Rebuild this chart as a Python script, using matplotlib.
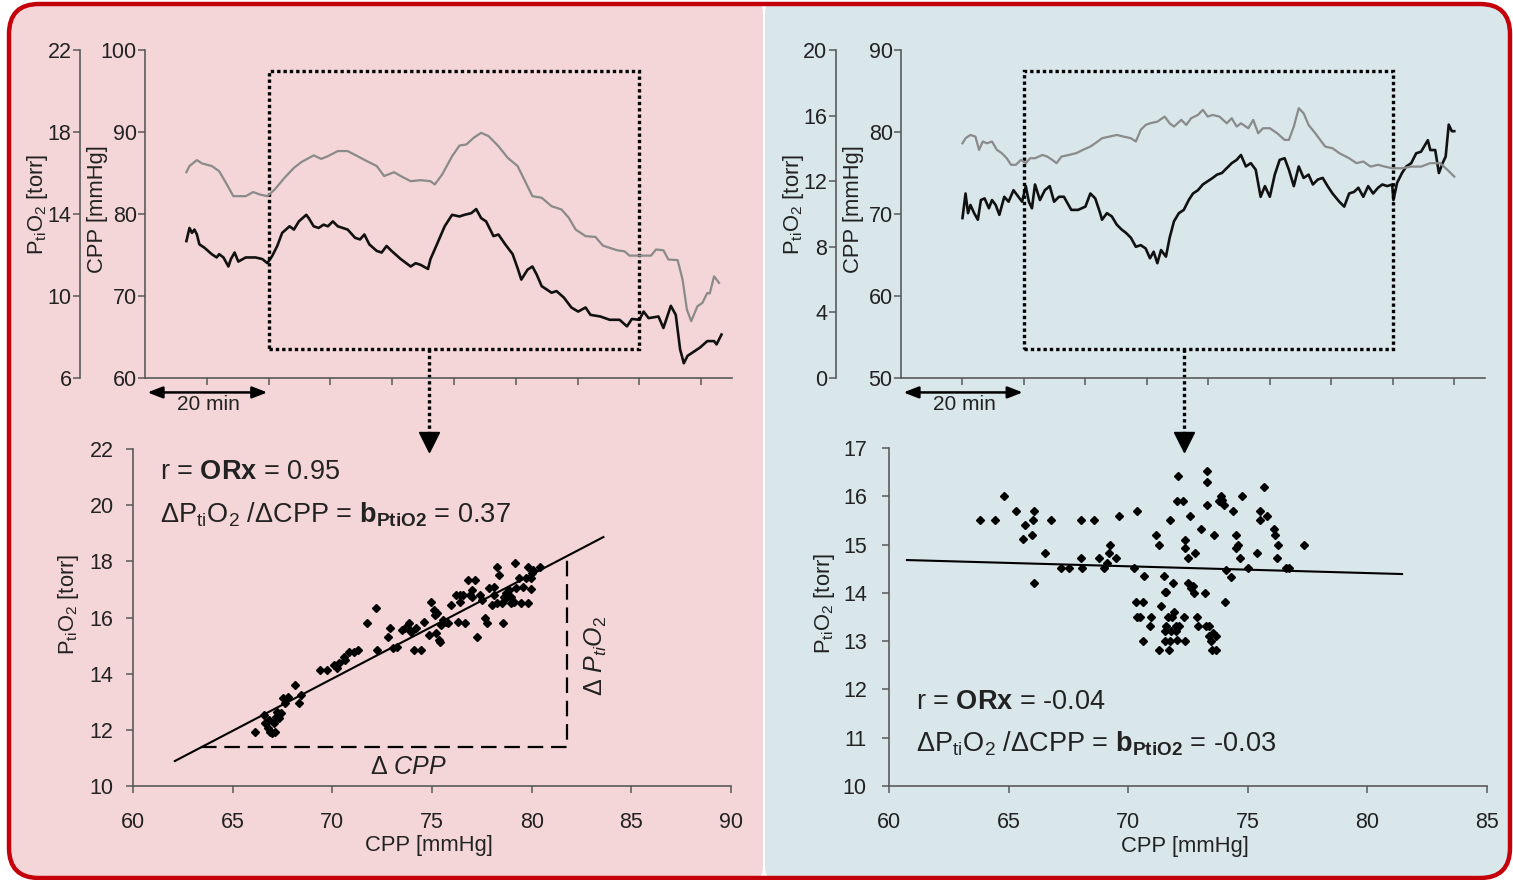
import matplotlib
matplotlib.use('Agg')
import matplotlib.pyplot as plt
from matplotlib.patches import FancyBboxPatch, Rectangle
import numpy as np

plt.rcParams['font.family'] = ['Liberation Sans', 'DejaVu Sans']
plt.rcParams['mathtext.fontset'] = 'custom'
plt.rcParams['mathtext.rm'] = 'Liberation Sans'
plt.rcParams['mathtext.it'] = 'Liberation Sans:italic'
plt.rcParams['mathtext.bf'] = 'Liberation Sans:bold'

# ---- left panel, time series (t in min) ----
left_p_t = [6.7, 7.2, 8.4, 9.2, 10.8, 12.0, 13.1, 14.3, 16.3, 17.5, 18.6, 19.8, 21.0, 22.6, 24.1, 25.3,
            27.3, 28.5, 29.6, 31.2, 32.8, 34.4, 35.9, 37.5, 38.7, 40.3, 41.4, 43.0, 44.6, 46.2, 46.9,
            48.1, 49.7, 50.9, 52.0, 53.2, 54.4, 55.6, 57.2, 58.7, 60.3, 61.9, 62.7, 64.2, 65.8, 67.4,
            68.6, 69.7, 71.3, 72.9, 74.1, 75.2, 76.4, 77.6, 78.4, 80.0, 81.9, 82.7, 83.9, 84.7, 86.2,
            87.0, 87.7, 88.4, 89.4, 90.2, 91.0, 91.4, 92.1, 92.9]
left_p = [16.04, 16.34, 16.63, 16.47, 16.34, 16.09, 15.52, 14.87, 14.87, 15.07, 14.95, 14.87, 15.20,
          15.77, 16.25, 16.53, 16.86, 16.69, 16.82, 17.07, 17.07, 16.82, 16.58, 16.34, 15.85, 16.04,
          15.85, 15.60, 15.65, 15.60, 15.44, 15.93, 16.82, 17.34, 17.39, 17.72, 17.96, 17.80, 17.31,
          16.74, 16.34, 15.36, 14.87, 14.79, 14.38, 14.22, 13.81, 13.24, 12.92, 12.88, 12.46, 12.35,
          12.23, 12.18, 11.97, 11.97, 11.97, 12.27, 12.23, 11.78, 11.75, 10.80, 9.34, 8.77, 9.50,
          9.66, 10.15, 10.12, 10.96, 10.64]
left_cpp_t = [6.7, 7.2, 7.6, 8.0, 8.4, 8.8, 9.6, 10.8, 11.6, 12.0, 12.7, 13.5, 13.9, 14.5, 15.1, 16.3,
              17.9, 19.0, 19.8, 20.6, 21.4, 22.2, 23.4, 24.1, 24.9, 26.1, 26.5, 27.3, 28.1, 28.9, 29.6,
              30.4, 31.2, 32.8, 34.0, 34.8, 35.5, 36.3, 37.5, 38.3, 39.1, 39.9, 41.4, 43.0, 43.8, 44.6,
              45.8, 46.2, 46.9, 48.5, 49.7, 50.9, 51.7, 52.8, 53.6, 54.4, 55.2, 56.4, 57.2, 58.3, 59.5,
              60.3, 60.9, 61.9, 62.7, 63.4, 64.2, 65.0, 65.8, 66.6, 67.8, 69.0, 70.1, 71.3, 72.1, 73.7,
              75.2, 76.8, 78.0, 78.8, 80.0, 80.7, 81.5, 83.1, 83.9, 85.1, 85.9, 86.6, 87.2, 87.8, 88.6,
              89.8, 91.0, 92.1, 92.5, 93.3]
left_cpp = [76.7, 78.3, 77.7, 78.1, 77.5, 76.3, 75.9, 75.1, 74.7, 75.1, 74.7, 73.6, 74.5, 75.3, 74.2,
            74.7, 74.7, 74.5, 74.0, 74.9, 76.1, 77.7, 78.5, 78.1, 79.1, 79.9, 79.5, 78.5, 78.3, 78.7,
            78.5, 79.1, 78.5, 78.1, 77.1, 76.9, 77.5, 76.3, 75.5, 75.3, 76.1, 75.5, 74.5, 73.6, 74.0,
            73.8, 73.3, 74.5, 75.7, 78.5, 79.9, 79.7, 79.9, 80.1, 80.6, 79.5, 79.1, 77.3, 77.5, 76.3,
            75.1, 73.4, 72.0, 73.2, 73.6, 72.6, 71.2, 70.8, 70.4, 70.6, 69.8, 68.6, 68.1, 68.6, 67.7,
            67.5, 67.1, 67.1, 66.3, 67.2, 67.1, 68.1, 67.3, 67.5, 66.1, 68.8, 67.7, 63.5, 61.8, 62.7,
            63.1, 63.7, 64.5, 64.5, 64.1, 65.3]

# ---- right panel, time series ----
right_p_t = [10.0, 10.5, 11.3, 12.1, 12.7, 13.3, 14.0, 14.8, 15.6, 16.4, 17.2, 17.9, 18.7, 19.5, 20.3,
             21.0, 21.8, 23.0, 23.8, 24.6, 25.3, 26.1, 27.3, 28.5, 29.6, 30.8, 32.0, 32.7, 33.9, 35.1,
             36.2, 37.4, 38.2, 39.0, 39.8, 40.5, 41.7, 42.9, 43.7, 44.4, 45.6, 46.4, 47.2, 48.3, 49.1,
             49.9, 50.7, 51.8, 53.0, 53.8, 54.6, 55.3, 56.5, 57.3, 58.1, 58.9, 60.0, 61.2, 62.4, 63.1,
             63.9, 64.7, 65.5, 66.3, 67.4, 69.0, 70.2, 71.3, 72.9, 74.1, 75.2, 76.4, 77.6, 78.7, 79.9,
             81.5, 83.0, 84.6, 86.1, 87.7, 88.9, 90.0]
right_p = [14.31, 14.62, 14.82, 14.72, 13.91, 14.42, 14.31, 14.42, 13.91, 13.71, 13.40, 13.00, 13.00,
           13.30, 13.10, 13.40, 13.40, 13.60, 13.50, 13.30, 13.10, 13.50, 13.60, 13.71, 13.91, 14.11,
           14.42, 14.62, 14.72, 14.82, 14.72, 14.62, 14.42, 15.13, 15.43, 15.53, 15.63, 15.94, 15.53,
           15.33, 15.74, 15.43, 15.84, 16.04, 16.35, 15.94, 16.04, 15.94, 15.53, 15.84, 15.33, 15.53,
           15.23, 15.74, 14.92, 15.23, 15.23, 14.92, 14.52, 14.52, 15.33, 16.45, 16.14, 15.43, 14.92,
           14.11, 14.01, 13.71, 13.40, 13.10, 13.20, 12.89, 13.00, 12.89, 12.79, 12.79, 12.89, 12.89,
           13.10, 13.10, 12.69, 12.28]
right_cpp_t = [10.0, 10.5, 10.9, 11.3, 11.9, 12.5, 13.0, 13.6, 14.3, 14.8, 15.4, 16.0, 16.8, 17.5, 18.3,
               19.1, 19.7, 20.3, 20.8, 21.3, 21.8, 22.6, 23.4, 24.2, 24.9, 25.7, 26.5, 27.7, 28.8, 30.0,
               30.8, 31.6, 32.4, 32.7, 33.5, 34.3, 35.1, 35.9, 36.6, 37.4, 38.2, 39.0, 39.8, 40.5, 41.1,
               41.7, 42.3, 43.1, 43.7, 44.4, 45.2, 46.0, 46.8, 47.5, 48.3, 49.1, 49.9, 50.7, 51.4, 52.2,
               53.0, 53.8, 54.6, 55.3, 56.1, 56.9, 57.7, 58.5, 59.2, 60.0, 60.8, 61.6, 62.4, 63.1, 63.9,
               64.7, 65.5, 66.3, 67.0, 67.8, 68.6, 69.4, 70.2, 71.3, 72.1, 72.9, 73.7, 74.4, 75.2, 76.0,
               76.8, 77.6, 78.3, 79.1, 79.9, 80.1, 80.7, 81.5, 82.2, 83.0, 83.8, 84.6, 85.7, 86.1, 86.9,
               87.5, 88.1, 88.6, 89.1, 89.6, 90.0]
right_cpp = [69.5, 72.5, 70.1, 71.1, 70.1, 69.3, 71.7, 71.9, 70.7, 71.7, 71.1, 69.9, 72.1, 71.5, 72.9,
             72.1, 71.5, 73.4, 71.5, 70.7, 73.6, 71.7, 72.9, 73.4, 71.5, 72.1, 72.1, 70.5, 70.5, 70.9,
             72.5, 71.9, 70.1, 69.3, 70.1, 69.7, 68.7, 68.1, 67.7, 67.1, 66.0, 66.2, 65.8, 64.6, 65.4,
             64.0, 65.6, 64.8, 67.1, 69.1, 70.1, 70.5, 71.7, 72.5, 72.9, 73.6, 74.0, 74.4, 74.8, 75.0,
             75.6, 76.2, 76.6, 77.2, 75.8, 76.2, 75.4, 72.1, 73.4, 72.1, 74.8, 76.6, 76.8, 75.4, 73.4,
             75.8, 74.4, 74.8, 73.6, 74.2, 74.4, 73.4, 72.5, 71.5, 70.9, 72.5, 72.7, 73.2, 72.1, 73.4,
             72.5, 73.2, 73.6, 73.4, 73.6, 71.7, 73.8, 75.0, 75.8, 76.2, 77.4, 77.6, 79.0, 77.8, 77.8,
             75.0, 76.2, 77.0, 80.9, 80.1, 80.1]

# ---- scatter data: CPP [mmHg] vs PtiO2 [torr] ----
left_sc_cpp = [66.13, 66.64, 66.76, 66.89, 66.98, 67.06, 67.18, 67.30, 67.42, 66.57, 66.81, 67.13, 67.23,
               67.54, 67.62, 67.79, 68.15, 68.35, 68.44, 69.37, 69.73, 70.10, 70.22, 70.34, 70.58, 70.63,
               70.83, 71.07, 71.31, 71.73, 72.17, 72.24, 72.77, 72.90, 73.02, 73.26, 73.50, 73.63, 73.75,
               73.87, 73.94, 74.11, 74.18, 74.43, 74.60, 74.84, 74.96, 75.09, 75.13, 75.21, 75.26, 75.33,
               75.40, 75.45, 75.57, 75.69, 75.82, 75.94, 76.18, 76.42, 76.55, 76.67, 76.79, 76.91, 77.03,
               77.15, 77.27, 77.40, 77.52, 77.64, 77.76, 77.88, 78.00, 78.13, 78.25, 78.37, 78.49, 78.56,
               78.61, 78.73, 78.86, 78.98, 79.10, 79.15, 79.22, 79.34, 79.46, 79.59, 79.71, 79.83, 79.83,
               79.95, 80.02, 80.07, 79.95, 80.44, 78.13, 78.25, 78.73, 78.98, 76.42, 76.30, 77.03]
left_sc_p = [11.93, 12.23, 12.05, 11.93, 11.90, 12.23, 12.47, 12.41, 12.59, 12.53, 12.35, 11.93, 12.65,
             13.12, 12.94, 13.18, 13.60, 12.94, 13.24, 14.13, 14.13, 14.31, 14.19, 14.37, 14.61, 14.49,
             14.78, 14.78, 14.84, 15.82, 16.33, 14.84, 15.32, 15.61, 14.90, 14.96, 15.55, 15.61, 15.67,
             15.79, 15.50, 14.84, 15.61, 14.84, 15.85, 15.38, 16.56, 16.27, 16.09, 15.44, 16.15, 15.20,
             15.14, 15.73, 15.91, 15.85, 15.79, 16.45, 16.80, 16.56, 16.80, 15.79, 17.34, 16.80, 16.98,
             17.34, 15.32, 16.80, 16.62, 15.97, 15.79, 17.04, 16.45, 17.10, 17.81, 17.51, 16.50, 15.79,
             16.74, 16.86, 16.98, 16.50, 16.56, 17.93, 17.04, 17.39, 16.50, 17.10, 17.39, 16.50, 17.81,
             17.00, 17.57, 17.69, 17.39, 17.81, 16.80, 16.50, 16.68, 16.74, 16.80, 15.85, 16.74]
right_sc_cpp = [63.82, 64.42, 64.80, 65.30, 65.62, 65.70, 65.98, 66.02, 66.06, 66.06, 66.51, 66.79, 67.17,
                67.51, 68.01, 68.01, 68.07, 68.59, 68.80, 69.00, 69.12, 69.18, 69.22, 69.48, 69.60, 70.24,
                70.38, 70.38, 70.32, 70.62, 70.48, 70.62, 70.68, 70.94, 70.92, 71.18, 71.29, 71.29, 71.39,
                71.49, 71.53, 71.59, 71.59, 71.53, 71.53, 71.65, 71.69, 71.73, 71.73, 71.79, 71.85, 71.89,
                71.93, 71.99, 71.99, 72.05, 72.09, 72.13, 72.05, 72.29, 72.33, 72.39, 72.39, 72.39, 72.49,
                72.49, 72.59, 72.63, 72.69, 72.75, 72.79, 72.89, 72.93, 73.05, 73.19, 73.25, 73.29, 73.29,
                73.29, 73.39, 73.39, 73.45, 73.49, 73.53, 73.59, 73.65, 73.69, 73.80, 73.90, 73.94, 74.00,
                74.06, 74.10, 74.30, 74.40, 74.50, 74.50, 74.60, 74.66, 74.76, 75.00, 75.40, 75.50, 75.50,
                75.66, 75.80, 76.10, 76.14, 76.20, 76.27, 76.61, 76.71, 77.37]
right_sc_p = [15.51, 15.51, 16.01, 15.70, 15.11, 15.41, 15.20, 15.51, 15.70, 14.20, 14.82, 15.51, 14.51,
              14.51, 15.51, 14.72, 14.51, 15.51, 14.72, 14.51, 14.62, 14.82, 15.00, 14.72, 15.60, 14.51,
              15.70, 13.50, 13.82, 13.82, 13.50, 13.01, 14.34, 13.50, 13.32, 15.20, 15.00, 12.82, 13.72,
              14.34, 14.01, 14.01, 13.32, 13.20, 13.01, 13.50, 12.82, 15.51, 13.01, 13.20, 13.50, 14.20,
              13.61, 13.32, 13.20, 13.03, 16.41, 13.32, 15.91, 15.91, 13.51, 15.10, 14.93, 13.01, 14.72,
              14.20, 15.60, 14.10, 14.15, 13.99, 14.82, 13.50, 13.32, 15.32, 13.99, 13.32, 16.52, 16.29,
              15.81, 13.32, 13.10, 13.01, 12.82, 13.17, 15.20, 13.10, 12.82, 15.91, 16.00, 15.93, 15.81,
              13.82, 14.48, 14.32, 15.70, 15.20, 14.93, 15.00, 14.72, 16.00, 14.51, 14.82, 15.70, 15.51,
              16.19, 15.60, 15.32, 15.20, 14.72, 15.00, 14.51, 14.51, 15.00]

# regression lines (slope, intercept) and their x extent
left_fit = (0.371, -12.15)
left_fit_x = [62.1, 83.6]
right_fit = (-0.0140, 15.53)
right_fit_x = [60.75, 81.45]

left_text = [r'r = $\mathbf{ORx}$ = 0.95',
             r'$\Delta$P$_{\mathrm{ti}}$O$_2$ /$\Delta$CPP = $\mathbf{b_{PtiO2}}$ = 0.37']
right_text = [r'r = $\mathbf{ORx}$ = -0.04',
              r'$\Delta$P$_{\mathrm{ti}}$O$_2$ /$\Delta$CPP = $\mathbf{b_{PtiO2}}$ = -0.03']

P_LABEL = r'P$_{\mathrm{ti}}$O$_2$ [torr]'
C_LABEL = 'CPP [mmHg]'

W, H = 1513, 880
PINK = '#f4d6d8'
BLUE = '#d9e6ea'
RED = '#c4000b'
GRAY_LINE = '#8a8a8a'
SPINE = '#5a5a5a'
TXT = '#222222'
TICK_FS = 15.5
LABEL_FS = 15.8

fig = plt.figure(figsize=(W / 100, H / 100), dpi=100)

# background panels
bg = fig.add_axes([0, 0, 1, 1], zorder=-5)
bg.set_xlim(0, W)
bg.set_ylim(H, 0)
bg.axis('off')
outer = FancyBboxPatch((9, 4), W - 12, H - 6, boxstyle='round,pad=0,rounding_size=30',
                       fc='none', ec=RED, lw=3.2, zorder=5)
bg.add_patch(outer)
for x0, x1, col in [(0, 763, PINK), (765, W, BLUE)]:
    p = FancyBboxPatch((x0, 0), x1 - x0, H, boxstyle='round,pad=0,rounding_size=13',
                       fc=col, ec='none', zorder=1)
    bg.add_patch(p)
    p.set_clip_path(outer)


def px_axes(x0, x1, y0, y1):
    return fig.add_axes([x0 / W, 1 - y1 / H, (x1 - x0) / W, (y1 - y0) / H])


def style(ax, pad=2):
    ax.set_facecolor('none')
    for s in ['top', 'right']:
        ax.spines[s].set_visible(False)
    for s in ['left', 'bottom']:
        ax.spines[s].set_color(SPINE)
        ax.spines[s].set_linewidth(1.2)
    ax.tick_params(direction='out', length=5, width=1.1, color=SPINE,
                   labelsize=TICK_FS, labelcolor=TXT, pad=pad)


def top_panel(x0, x1, t_p, p, t_c, c, p_ticks, c_ticks, box, off):
    ax = px_axes(x0, x1, 50, 378)
    style(ax, pad=1)
    ax.set_xlim(0, 95)
    ax.set_xticks(np.arange(10, 91, 10))
    ax.set_xticklabels([])
    ax.set_ylim(c_ticks[0], c_ticks[-1])
    ax.set_yticks(c_ticks)

    ax2 = ax.twinx()
    ax2.set_ylim(p_ticks[0], p_ticks[-1])
    ax2.set_yticks(p_ticks)
    ax2.yaxis.set_ticks_position('left')
    for s in ['top', 'right', 'bottom']:
        ax2.spines[s].set_visible(False)
    ax2.spines['left'].set_visible(True)
    ax2.spines['left'].set_position(('axes', off))
    ax2.spines['left'].set_color(SPINE)
    ax2.spines['left'].set_linewidth(1.2)
    ax2.tick_params(direction='out', length=5, width=1.1, color=SPINE,
                    labelsize=TICK_FS, labelcolor=TXT, pad=1)

    ax2.plot(t_p, p, color=GRAY_LINE, lw=1.6)
    ax.plot(t_c, c, color='#111111', lw=1.9)

    ax.text(off - 0.072, 0.53, P_LABEL, transform=ax.transAxes, rotation=90,
            ha='center', va='center', fontsize=LABEL_FS, color=TXT)
    ax.text(-0.081, 0.515, C_LABEL, transform=ax.transAxes, rotation=90,
            ha='center', va='center', fontsize=LABEL_FS, color=TXT)

    # selected window
    lo, hi = box
    ax.add_patch(Rectangle((20, lo), 60, hi - lo, fill=False, ec='k', lw=2.4,
                           ls=(0, (1, 0.9)), zorder=4))
    span = c_ticks[-1] - c_ticks[0]
    y_end = c_ticks[0] - span * 57 / 328
    y_head = c_ticks[0] - span * 64 / 328
    ax.plot([46, 46], [lo, y_end], color='k', lw=2.4, ls=(0, (1, 0.9)), clip_on=False)
    ax.plot([46], [y_head], marker='v', ms=15, color='k', clip_on=False)

    # 20 min scale bar
    ax.annotate('', xy=(0.4, -0.044), xytext=(19.8, -0.044),
                xycoords=('data', 'axes fraction'),
                arrowprops=dict(arrowstyle='<|-|>,head_length=0.9,head_width=0.35',
                                color='k', lw=1.8, shrinkA=0, shrinkB=0))
    ax.text(10.3, -0.08, '20 min', transform=ax.get_xaxis_transform(),
            ha='center', va='center', fontsize=15, color=TXT)
    return ax


def scatter_panel(x0, x1, y0, x, y, xticks, yticks, fit, fit_x, texts, text_y, ypad):
    ax = px_axes(x0, x1, y0, 786)
    style(ax)
    ax.tick_params(axis='x', pad=14)
    ax.tick_params(axis='y', pad=ypad)
    ax.set_xlim(xticks[0], xticks[-1])
    ax.set_ylim(yticks[0], yticks[-1])
    ax.set_xticks(xticks)
    ax.set_yticks(yticks)
    ax.plot(x, y, 'D', ms=3.6, color='k', mec='k')
    fx = np.array(fit_x)
    ax.plot(fx, fit[0] * fx + fit[1], color='k', lw=1.5)
    ax.text(0.495, -0.178, C_LABEL, transform=ax.transAxes, ha='center', va='center',
            fontsize=LABEL_FS, color=TXT)
    ax.text(-0.108, 0.54, P_LABEL, transform=ax.transAxes, rotation=90,
            ha='center', va='center', fontsize=LABEL_FS, color=TXT)
    for s, ty in zip(texts, text_y):
        ax.text(xticks[0] + (xticks[-1] - xticks[0]) * 0.045, ty, s, ha='left', va='center',
                fontsize=19.5, color=TXT)
    return ax


top_panel(145, 732, left_p_t, left_p, left_cpp_t, left_cpp,
          np.arange(6, 23, 4), np.arange(60, 101, 10), (63.5, 97.4), -0.111)
top_panel(901, 1485, right_p_t, right_p, right_cpp_t, right_cpp,
          np.arange(0, 21, 4), np.arange(50, 91, 10), (53.5, 87.4), -0.112)

axl = scatter_panel(133, 731, 449, left_sc_cpp, left_sc_p, np.arange(60, 91, 5),
                    np.arange(10, 23, 2), left_fit, left_fit_x, left_text, [21.18, 19.65], 9)
# slope triangle
tx0, tx1 = 63.4, 81.75
ty0 = left_fit[0] * tx0 + left_fit[1]
ty1 = left_fit[0] * tx1 + left_fit[1]
axl.plot([tx0, tx1, tx1], [ty0, ty0, ty1], color='k', lw=1.6, ls=(0, (7, 3.5)))
axl.text(73.8, 10.68, r'$\mathit{\Delta\ CPP}$', ha='center', va='center',
         fontsize=18, color=TXT)
axl.text(83.2, 14.63, r'$\mathit{\Delta\ P_{ti}O_2}$', ha='center', va='center',
         fontsize=18, color=TXT, rotation=90)

scatter_panel(889, 1487, 448, right_sc_cpp, right_sc_p, np.arange(60, 86, 5),
              np.arange(10, 18, 1), right_fit, right_fit_x, right_text, [11.74, 10.87], 11)

fig.savefig('out.png', dpi=100)
